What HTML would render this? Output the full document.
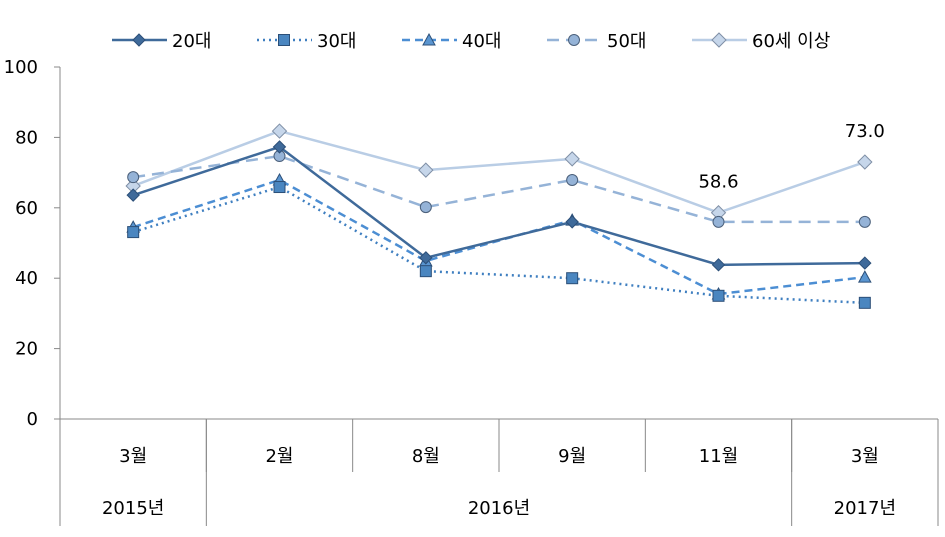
<!DOCTYPE html>
<html><head><meta charset="utf-8"><style>
body{margin:0;background:#fff}
svg text{font-family:"DejaVu Sans","Noto Sans CJK KR",sans-serif;font-size:18px;fill:#000}
</style></head><body>
<svg id="c" width="945" height="532"></svg>
<script>
const categories=["3월","2월","8월","9월","11월","3월"];
const years=["2015년","2016년","2017년"];
const yearSpans=[1,4,1];
const yTicks=[0,20,40,60,80,100];
const seriesNames=["20대","30대","40대","50대","60세 이상"];
const s20=[63.6,77.3,45.8,56,43.8,44.3];
const s30=[53.1,65.9,42,40,35,33];
const s40=[54.5,67.9,44.9,56.5,35.5,40.3];
const s50=[68.7,74.7,60.2,67.9,56,56];
const s60=[66.2,81.8,70.7,73.9,58.6,73.0];
const labels60=[null,null,null,null,"58.6","73.0"];

const svg=document.getElementById('c');
const NS='http://www.w3.org/2000/svg';
const X0=60,X1=938,Y0=419,Y1=67;
const cw=(X1-X0)/categories.length;
const xs=i=>X0+cw*(i+0.5);
const ys=v=>Y0-(v/100)*(Y0-Y1);
function el(t,a,p){const e=document.createElementNS(NS,t);for(const k in a)e.setAttribute(k,a[k]);(p||svg).appendChild(e);return e;}

const ax=el('g',{});


yTicks.forEach(t=>{
  const tl=el('line',{x1:X0-6,x2:X0,y1:ys(t),y2:ys(t),stroke:'#888'},ax);
  
  
  const tx=el('text',{x:X0-22,y:ys(t)+6,'text-anchor':'end'},ax);tx.textContent=t;
  
  
});
el('line',{x1:X0,x2:X0,y1:Y1,y2:526,stroke:'#888'},ax);
el('line',{x1:X0,x2:X1,y1:Y0,y2:Y0,stroke:'#888'},ax);
for(let i=1;i<categories.length;i++) el('line',{x1:X0+cw*i,x2:X0+cw*i,y1:Y0,y2:472,stroke:'#888'},ax);
let acc=0;
yearSpans.forEach((sp,j)=>{
  const xa=X0+cw*acc; acc+=sp; const xb=X0+cw*acc;
  el('line',{x1:xb,x2:xb,y1:Y0,y2:526,stroke:'#888'},ax);
  const t=el('text',{x:(xa+xb)/2,y:514,'text-anchor':'middle'},ax);t.textContent=years[j];
  
  
});
categories.forEach((c,i)=>{
  const t=el('text',{x:xs(i),y:462,'text-anchor':'middle'},ax);t.textContent=c;
  
  
});

function marker(type,x,y,fill,g){
  let e;
  if(type==='d') e=el('polygon',{points:`${x},${y-6} ${x+6},${y} ${x},${y+6} ${x-6},${y}`,fill,stroke:'#2c4f78','stroke-width':1},g);
  else if(type==='s') e=el('rect',{x:x-5.5,y:y-5.5,width:11,height:11,fill,stroke:'#2c4f78','stroke-width':1},g);
  else if(type==='t') e=el('polygon',{points:`${x},${y-6} ${x+6},${y+5} ${x-6},${y+5}`,fill,stroke:'#2c4f78','stroke-width':1},g);
  else if(type==='c') e=el('circle',{cx:x,cy:y,r:5.5,fill,stroke:'#4a5f7a','stroke-width':1},g);
  else e=el('polygon',{points:`${x},${y-7} ${x+7},${y} ${x},${y+7} ${x-7},${y}`,fill,stroke:'#7f8fa6','stroke-width':1},g);
  return e;
}
const styles=[
 {data:s20,color:'#3f6a9a',dash:'',w:2.5,m:'d',mf:'#3f6a9a'},
 {data:s30,color:'#3f7fc0',dash:'2 4',w:2.5,m:'s',mf:'#4a86c0'},
 {data:s40,color:'#4c8ed3',dash:'8 5',w:2.5,m:'t',mf:'#5a95d0'},
 {data:s50,color:'#95b3d7',dash:'12 7',w:2.5,m:'c',mf:'#95b3d7'},
 {data:s60,color:'#b9cde5',dash:'',w:2.5,m:'x',mf:'#c6d6ea'}
];
const names=['series-20s','series-30s','series-40s','series-50s','series-60-plus'];
[4,3,2,1,0].forEach(k=>{
  const st=styles[k];
  const g=el('g',{});
  
  
  const ln=el('polyline',{points:st.data.map((v,i)=>xs(i)+','+ys(v)).join(' '),fill:'none',stroke:st.color,'stroke-width':st.w,'stroke-dasharray':st.dash},g);
  
  
  st.data.forEach((v,i)=>{
    const m=marker(st.m,xs(i),ys(v),st.mf,g);
    
    
  });
});
labels60.forEach((l,i)=>{
  if(!l)return;
  const t=el('text',{x:xs(i),y:ys(s60[i])-25,'text-anchor':'middle'});t.textContent=l;
  
  
});

const lg=el('g',{});


const lx=[112,257,402,547,692];
styles.forEach((st,k)=>{
  const g=el('g',{},lg);
  
  
  el('line',{x1:lx[k],x2:lx[k]+55,y1:40,y2:40,stroke:st.color,'stroke-width':st.w,'stroke-dasharray':st.dash},g);
  marker(st.m,lx[k]+27,40,st.mf,g);
  const t=el('text',{x:lx[k]+60,y:47},g);t.textContent=seriesNames[k];
});
</script>
</body></html>
